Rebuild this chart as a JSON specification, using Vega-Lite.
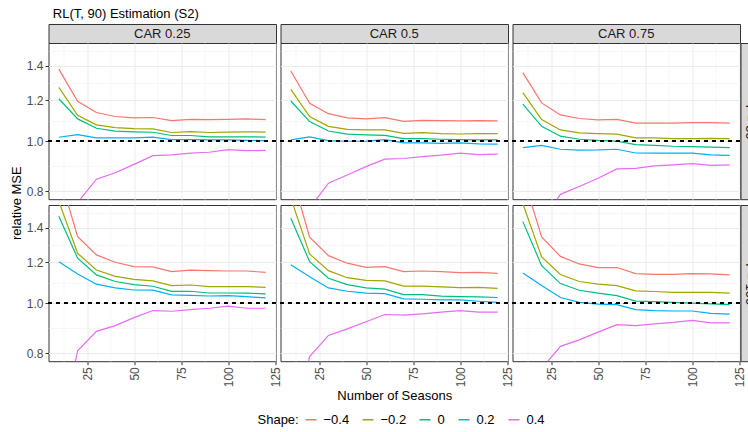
{
"$schema": "https://vega.github.io/schema/vega-lite/v6.json",
"padding": {"left": 9.5, "top": 7, "right": 0, "bottom": 0},
"title": {"text": "RL(T, 90) Estimation (S2)", "anchor": "start", "fontSize": 13, "fontWeight": "normal", "color": "#000000", "offset": 2.7, "dx": 43},
"datasets": {"mse": [
{"T":50,"CAR":0.25,"shape":-0.4,"seasons":10,"mse":1.380},{"T":50,"CAR":0.25,"shape":-0.4,"seasons":20,"mse":1.195},{"T":50,"CAR":0.25,"shape":-0.4,"seasons":30,"mse":1.137},{"T":50,"CAR":0.25,"shape":-0.4,"seasons":40,"mse":1.117},{"T":50,"CAR":0.25,"shape":-0.4,"seasons":50,"mse":1.110},{"T":50,"CAR":0.25,"shape":-0.4,"seasons":60,"mse":1.112},{"T":50,"CAR":0.25,"shape":-0.4,"seasons":70,"mse":1.097},{"T":50,"CAR":0.25,"shape":-0.4,"seasons":80,"mse":1.103},{"T":50,"CAR":0.25,"shape":-0.4,"seasons":90,"mse":1.101},{"T":50,"CAR":0.25,"shape":-0.4,"seasons":100,"mse":1.103},{"T":50,"CAR":0.25,"shape":-0.4,"seasons":110,"mse":1.105},{"T":50,"CAR":0.25,"shape":-0.4,"seasons":120,"mse":1.101},
{"T":50,"CAR":0.25,"shape":-0.2,"seasons":10,"mse":1.272},{"T":50,"CAR":0.25,"shape":-0.2,"seasons":20,"mse":1.123},{"T":50,"CAR":0.25,"shape":-0.2,"seasons":30,"mse":1.076},{"T":50,"CAR":0.25,"shape":-0.2,"seasons":40,"mse":1.063},{"T":50,"CAR":0.25,"shape":-0.2,"seasons":50,"mse":1.058},{"T":50,"CAR":0.25,"shape":-0.2,"seasons":60,"mse":1.057},{"T":50,"CAR":0.25,"shape":-0.2,"seasons":70,"mse":1.040},{"T":50,"CAR":0.25,"shape":-0.2,"seasons":80,"mse":1.044},{"T":50,"CAR":0.25,"shape":-0.2,"seasons":90,"mse":1.040},{"T":50,"CAR":0.25,"shape":-0.2,"seasons":100,"mse":1.042},{"T":50,"CAR":0.25,"shape":-0.2,"seasons":110,"mse":1.043},{"T":50,"CAR":0.25,"shape":-0.2,"seasons":120,"mse":1.042},
{"T":50,"CAR":0.25,"shape":0,"seasons":10,"mse":1.209},{"T":50,"CAR":0.25,"shape":0,"seasons":20,"mse":1.105},{"T":50,"CAR":0.25,"shape":0,"seasons":30,"mse":1.060},{"T":50,"CAR":0.25,"shape":0,"seasons":40,"mse":1.046},{"T":50,"CAR":0.25,"shape":0,"seasons":50,"mse":1.043},{"T":50,"CAR":0.25,"shape":0,"seasons":60,"mse":1.041},{"T":50,"CAR":0.25,"shape":0,"seasons":70,"mse":1.026},{"T":50,"CAR":0.25,"shape":0,"seasons":80,"mse":1.026},{"T":50,"CAR":0.25,"shape":0,"seasons":90,"mse":1.020},{"T":50,"CAR":0.25,"shape":0,"seasons":100,"mse":1.020},{"T":50,"CAR":0.25,"shape":0,"seasons":110,"mse":1.020},{"T":50,"CAR":0.25,"shape":0,"seasons":120,"mse":1.019},
{"T":50,"CAR":0.25,"shape":0.2,"seasons":10,"mse":1.018},{"T":50,"CAR":0.25,"shape":0.2,"seasons":20,"mse":1.030},{"T":50,"CAR":0.25,"shape":0.2,"seasons":30,"mse":1.015},{"T":50,"CAR":0.25,"shape":0.2,"seasons":40,"mse":1.015},{"T":50,"CAR":0.25,"shape":0.2,"seasons":50,"mse":1.015},{"T":50,"CAR":0.25,"shape":0.2,"seasons":60,"mse":1.019},{"T":50,"CAR":0.25,"shape":0.2,"seasons":70,"mse":1.007},{"T":50,"CAR":0.25,"shape":0.2,"seasons":80,"mse":1.007},{"T":50,"CAR":0.25,"shape":0.2,"seasons":90,"mse":1.006},{"T":50,"CAR":0.25,"shape":0.2,"seasons":100,"mse":1.006},{"T":50,"CAR":0.25,"shape":0.2,"seasons":110,"mse":1.004},{"T":50,"CAR":0.25,"shape":0.2,"seasons":120,"mse":1.003},
{"T":50,"CAR":0.25,"shape":0.4,"seasons":10,"mse":0.55},{"T":50,"CAR":0.25,"shape":0.4,"seasons":20,"mse":0.761},{"T":50,"CAR":0.25,"shape":0.4,"seasons":30,"mse":0.844},{"T":50,"CAR":0.25,"shape":0.4,"seasons":40,"mse":0.869},{"T":50,"CAR":0.25,"shape":0.4,"seasons":50,"mse":0.902},{"T":50,"CAR":0.25,"shape":0.4,"seasons":60,"mse":0.938},{"T":50,"CAR":0.25,"shape":0.4,"seasons":70,"mse":0.941},{"T":50,"CAR":0.25,"shape":0.4,"seasons":80,"mse":0.948},{"T":50,"CAR":0.25,"shape":0.4,"seasons":90,"mse":0.952},{"T":50,"CAR":0.25,"shape":0.4,"seasons":100,"mse":0.963},{"T":50,"CAR":0.25,"shape":0.4,"seasons":110,"mse":0.959},{"T":50,"CAR":0.25,"shape":0.4,"seasons":120,"mse":0.960},
{"T":50,"CAR":0.5,"shape":-0.4,"seasons":10,"mse":1.369},{"T":50,"CAR":0.5,"shape":-0.4,"seasons":20,"mse":1.185},{"T":50,"CAR":0.5,"shape":-0.4,"seasons":30,"mse":1.131},{"T":50,"CAR":0.5,"shape":-0.4,"seasons":40,"mse":1.110},{"T":50,"CAR":0.5,"shape":-0.4,"seasons":50,"mse":1.105},{"T":50,"CAR":0.5,"shape":-0.4,"seasons":60,"mse":1.111},{"T":50,"CAR":0.5,"shape":-0.4,"seasons":70,"mse":1.093},{"T":50,"CAR":0.5,"shape":-0.4,"seasons":80,"mse":1.098},{"T":50,"CAR":0.5,"shape":-0.4,"seasons":90,"mse":1.097},{"T":50,"CAR":0.5,"shape":-0.4,"seasons":100,"mse":1.095},{"T":50,"CAR":0.5,"shape":-0.4,"seasons":110,"mse":1.097},{"T":50,"CAR":0.5,"shape":-0.4,"seasons":120,"mse":1.095},
{"T":50,"CAR":0.5,"shape":-0.2,"seasons":10,"mse":1.261},{"T":50,"CAR":0.5,"shape":-0.2,"seasons":20,"mse":1.117},{"T":50,"CAR":0.5,"shape":-0.2,"seasons":30,"mse":1.069},{"T":50,"CAR":0.5,"shape":-0.2,"seasons":40,"mse":1.055},{"T":50,"CAR":0.5,"shape":-0.2,"seasons":50,"mse":1.052},{"T":50,"CAR":0.5,"shape":-0.2,"seasons":60,"mse":1.052},{"T":50,"CAR":0.5,"shape":-0.2,"seasons":70,"mse":1.036},{"T":50,"CAR":0.5,"shape":-0.2,"seasons":80,"mse":1.039},{"T":50,"CAR":0.5,"shape":-0.2,"seasons":90,"mse":1.035},{"T":50,"CAR":0.5,"shape":-0.2,"seasons":100,"mse":1.033},{"T":50,"CAR":0.5,"shape":-0.2,"seasons":110,"mse":1.035},{"T":50,"CAR":0.5,"shape":-0.2,"seasons":120,"mse":1.035},
{"T":50,"CAR":0.5,"shape":0,"seasons":10,"mse":1.197},{"T":50,"CAR":0.5,"shape":0,"seasons":20,"mse":1.092},{"T":50,"CAR":0.5,"shape":0,"seasons":30,"mse":1.047},{"T":50,"CAR":0.5,"shape":0,"seasons":40,"mse":1.032},{"T":50,"CAR":0.5,"shape":0,"seasons":50,"mse":1.029},{"T":50,"CAR":0.5,"shape":0,"seasons":60,"mse":1.027},{"T":50,"CAR":0.5,"shape":0,"seasons":70,"mse":1.012},{"T":50,"CAR":0.5,"shape":0,"seasons":80,"mse":1.012},{"T":50,"CAR":0.5,"shape":0,"seasons":90,"mse":1.009},{"T":50,"CAR":0.5,"shape":0,"seasons":100,"mse":1.007},{"T":50,"CAR":0.5,"shape":0,"seasons":110,"mse":1.006},{"T":50,"CAR":0.5,"shape":0,"seasons":120,"mse":1.006},
{"T":50,"CAR":0.5,"shape":0.2,"seasons":10,"mse":1.006},{"T":50,"CAR":0.5,"shape":0.2,"seasons":20,"mse":1.020},{"T":50,"CAR":0.5,"shape":0.2,"seasons":30,"mse":1.003},{"T":50,"CAR":0.5,"shape":0.2,"seasons":40,"mse":1.000},{"T":50,"CAR":0.5,"shape":0.2,"seasons":50,"mse":1.001},{"T":50,"CAR":0.5,"shape":0.2,"seasons":60,"mse":1.007},{"T":50,"CAR":0.5,"shape":0.2,"seasons":70,"mse":0.993},{"T":50,"CAR":0.5,"shape":0.2,"seasons":80,"mse":0.993},{"T":50,"CAR":0.5,"shape":0.2,"seasons":90,"mse":0.991},{"T":50,"CAR":0.5,"shape":0.2,"seasons":100,"mse":0.993},{"T":50,"CAR":0.5,"shape":0.2,"seasons":110,"mse":0.988},{"T":50,"CAR":0.5,"shape":0.2,"seasons":120,"mse":0.987},
{"T":50,"CAR":0.5,"shape":0.4,"seasons":10,"mse":0.50},{"T":50,"CAR":0.5,"shape":0.4,"seasons":20,"mse":0.742},{"T":50,"CAR":0.5,"shape":0.4,"seasons":30,"mse":0.829},{"T":50,"CAR":0.5,"shape":0.4,"seasons":40,"mse":0.860},{"T":50,"CAR":0.5,"shape":0.4,"seasons":50,"mse":0.893},{"T":50,"CAR":0.5,"shape":0.4,"seasons":60,"mse":0.923},{"T":50,"CAR":0.5,"shape":0.4,"seasons":70,"mse":0.926},{"T":50,"CAR":0.5,"shape":0.4,"seasons":80,"mse":0.934},{"T":50,"CAR":0.5,"shape":0.4,"seasons":90,"mse":0.940},{"T":50,"CAR":0.5,"shape":0.4,"seasons":100,"mse":0.948},{"T":50,"CAR":0.5,"shape":0.4,"seasons":110,"mse":0.942},{"T":50,"CAR":0.5,"shape":0.4,"seasons":120,"mse":0.944},
{"T":50,"CAR":0.75,"shape":-0.4,"seasons":10,"mse":1.359},{"T":50,"CAR":0.75,"shape":-0.4,"seasons":20,"mse":1.187},{"T":50,"CAR":0.75,"shape":-0.4,"seasons":30,"mse":1.125},{"T":50,"CAR":0.75,"shape":-0.4,"seasons":40,"mse":1.107},{"T":50,"CAR":0.75,"shape":-0.4,"seasons":50,"mse":1.100},{"T":50,"CAR":0.75,"shape":-0.4,"seasons":60,"mse":1.103},{"T":50,"CAR":0.75,"shape":-0.4,"seasons":70,"mse":1.084},{"T":50,"CAR":0.75,"shape":-0.4,"seasons":80,"mse":1.084},{"T":50,"CAR":0.75,"shape":-0.4,"seasons":90,"mse":1.084},{"T":50,"CAR":0.75,"shape":-0.4,"seasons":100,"mse":1.087},{"T":50,"CAR":0.75,"shape":-0.4,"seasons":110,"mse":1.087},{"T":50,"CAR":0.75,"shape":-0.4,"seasons":120,"mse":1.084},
{"T":50,"CAR":0.75,"shape":-0.2,"seasons":10,"mse":1.243},{"T":50,"CAR":0.75,"shape":-0.2,"seasons":20,"mse":1.102},{"T":50,"CAR":0.75,"shape":-0.2,"seasons":30,"mse":1.052},{"T":50,"CAR":0.75,"shape":-0.2,"seasons":40,"mse":1.038},{"T":50,"CAR":0.75,"shape":-0.2,"seasons":50,"mse":1.035},{"T":50,"CAR":0.75,"shape":-0.2,"seasons":60,"mse":1.032},{"T":50,"CAR":0.75,"shape":-0.2,"seasons":70,"mse":1.015},{"T":50,"CAR":0.75,"shape":-0.2,"seasons":80,"mse":1.015},{"T":50,"CAR":0.75,"shape":-0.2,"seasons":90,"mse":1.012},{"T":50,"CAR":0.75,"shape":-0.2,"seasons":100,"mse":1.012},{"T":50,"CAR":0.75,"shape":-0.2,"seasons":110,"mse":1.013},{"T":50,"CAR":0.75,"shape":-0.2,"seasons":120,"mse":1.012},
{"T":50,"CAR":0.75,"shape":0,"seasons":10,"mse":1.180},{"T":50,"CAR":0.75,"shape":0,"seasons":20,"mse":1.069},{"T":50,"CAR":0.75,"shape":0,"seasons":30,"mse":1.023},{"T":50,"CAR":0.75,"shape":0,"seasons":40,"mse":1.009},{"T":50,"CAR":0.75,"shape":0,"seasons":50,"mse":1.004},{"T":50,"CAR":0.75,"shape":0,"seasons":60,"mse":1.001},{"T":50,"CAR":0.75,"shape":0,"seasons":70,"mse":0.985},{"T":50,"CAR":0.75,"shape":0,"seasons":80,"mse":0.982},{"T":50,"CAR":0.75,"shape":0,"seasons":90,"mse":0.978},{"T":50,"CAR":0.75,"shape":0,"seasons":100,"mse":0.976},{"T":50,"CAR":0.75,"shape":0,"seasons":110,"mse":0.974},{"T":50,"CAR":0.75,"shape":0,"seasons":120,"mse":0.972},
{"T":50,"CAR":0.75,"shape":0.2,"seasons":10,"mse":0.972},{"T":50,"CAR":0.75,"shape":0.2,"seasons":20,"mse":0.982},{"T":50,"CAR":0.75,"shape":0.2,"seasons":30,"mse":0.965},{"T":50,"CAR":0.75,"shape":0.2,"seasons":40,"mse":0.961},{"T":50,"CAR":0.75,"shape":0.2,"seasons":50,"mse":0.962},{"T":50,"CAR":0.75,"shape":0.2,"seasons":60,"mse":0.965},{"T":50,"CAR":0.75,"shape":0.2,"seasons":70,"mse":0.949},{"T":50,"CAR":0.75,"shape":0.2,"seasons":80,"mse":0.948},{"T":50,"CAR":0.75,"shape":0.2,"seasons":90,"mse":0.948},{"T":50,"CAR":0.75,"shape":0.2,"seasons":100,"mse":0.948},{"T":50,"CAR":0.75,"shape":0.2,"seasons":110,"mse":0.941},{"T":50,"CAR":0.75,"shape":0.2,"seasons":120,"mse":0.939},
{"T":50,"CAR":0.75,"shape":0.4,"seasons":10,"mse":0.45},{"T":50,"CAR":0.75,"shape":0.4,"seasons":20,"mse":0.70},{"T":50,"CAR":0.75,"shape":0.4,"seasons":30,"mse":0.789},{"T":50,"CAR":0.75,"shape":0.4,"seasons":40,"mse":0.817},{"T":50,"CAR":0.75,"shape":0.4,"seasons":50,"mse":0.848},{"T":50,"CAR":0.75,"shape":0.4,"seasons":60,"mse":0.884},{"T":50,"CAR":0.75,"shape":0.4,"seasons":70,"mse":0.886},{"T":50,"CAR":0.75,"shape":0.4,"seasons":80,"mse":0.896},{"T":50,"CAR":0.75,"shape":0.4,"seasons":90,"mse":0.900},{"T":50,"CAR":0.75,"shape":0.4,"seasons":100,"mse":0.905},{"T":50,"CAR":0.75,"shape":0.4,"seasons":110,"mse":0.898},{"T":50,"CAR":0.75,"shape":0.4,"seasons":120,"mse":0.900},
{"T":100,"CAR":0.25,"shape":-0.4,"seasons":10,"mse":1.79},{"T":100,"CAR":0.25,"shape":-0.4,"seasons":20,"mse":1.347},{"T":100,"CAR":0.25,"shape":-0.4,"seasons":30,"mse":1.241},{"T":100,"CAR":0.25,"shape":-0.4,"seasons":40,"mse":1.201},{"T":100,"CAR":0.25,"shape":-0.4,"seasons":50,"mse":1.178},{"T":100,"CAR":0.25,"shape":-0.4,"seasons":60,"mse":1.176},{"T":100,"CAR":0.25,"shape":-0.4,"seasons":70,"mse":1.152},{"T":100,"CAR":0.25,"shape":-0.4,"seasons":80,"mse":1.160},{"T":100,"CAR":0.25,"shape":-0.4,"seasons":90,"mse":1.157},{"T":100,"CAR":0.25,"shape":-0.4,"seasons":100,"mse":1.155},{"T":100,"CAR":0.25,"shape":-0.4,"seasons":110,"mse":1.155},{"T":100,"CAR":0.25,"shape":-0.4,"seasons":120,"mse":1.148},
{"T":100,"CAR":0.25,"shape":-0.2,"seasons":10,"mse":1.576},{"T":100,"CAR":0.25,"shape":-0.2,"seasons":20,"mse":1.250},{"T":100,"CAR":0.25,"shape":-0.2,"seasons":30,"mse":1.160},{"T":100,"CAR":0.25,"shape":-0.2,"seasons":40,"mse":1.128},{"T":100,"CAR":0.25,"shape":-0.2,"seasons":50,"mse":1.113},{"T":100,"CAR":0.25,"shape":-0.2,"seasons":60,"mse":1.105},{"T":100,"CAR":0.25,"shape":-0.2,"seasons":70,"mse":1.082},{"T":100,"CAR":0.25,"shape":-0.2,"seasons":80,"mse":1.085},{"T":100,"CAR":0.25,"shape":-0.2,"seasons":90,"mse":1.077},{"T":100,"CAR":0.25,"shape":-0.2,"seasons":100,"mse":1.077},{"T":100,"CAR":0.25,"shape":-0.2,"seasons":110,"mse":1.077},{"T":100,"CAR":0.25,"shape":-0.2,"seasons":120,"mse":1.074},
{"T":100,"CAR":0.25,"shape":0,"seasons":10,"mse":1.475},{"T":100,"CAR":0.25,"shape":0,"seasons":20,"mse":1.223},{"T":100,"CAR":0.25,"shape":0,"seasons":30,"mse":1.135},{"T":100,"CAR":0.25,"shape":0,"seasons":40,"mse":1.102},{"T":100,"CAR":0.25,"shape":0,"seasons":50,"mse":1.087},{"T":100,"CAR":0.25,"shape":0,"seasons":60,"mse":1.079},{"T":100,"CAR":0.25,"shape":0,"seasons":70,"mse":1.055},{"T":100,"CAR":0.25,"shape":0,"seasons":80,"mse":1.055},{"T":100,"CAR":0.25,"shape":0,"seasons":90,"mse":1.047},{"T":100,"CAR":0.25,"shape":0,"seasons":100,"mse":1.047},{"T":100,"CAR":0.25,"shape":0,"seasons":110,"mse":1.046},{"T":100,"CAR":0.25,"shape":0,"seasons":120,"mse":1.043},
{"T":100,"CAR":0.25,"shape":0.2,"seasons":10,"mse":1.204},{"T":100,"CAR":0.25,"shape":0.2,"seasons":20,"mse":1.140},{"T":100,"CAR":0.25,"shape":0.2,"seasons":30,"mse":1.089},{"T":100,"CAR":0.25,"shape":0.2,"seasons":40,"mse":1.071},{"T":100,"CAR":0.25,"shape":0.2,"seasons":50,"mse":1.061},{"T":100,"CAR":0.25,"shape":0.2,"seasons":60,"mse":1.060},{"T":100,"CAR":0.25,"shape":0.2,"seasons":70,"mse":1.038},{"T":100,"CAR":0.25,"shape":0.2,"seasons":80,"mse":1.036},{"T":100,"CAR":0.25,"shape":0.2,"seasons":90,"mse":1.033},{"T":100,"CAR":0.25,"shape":0.2,"seasons":100,"mse":1.035},{"T":100,"CAR":0.25,"shape":0.2,"seasons":110,"mse":1.030},{"T":100,"CAR":0.25,"shape":0.2,"seasons":120,"mse":1.024},
{"T":100,"CAR":0.25,"shape":0.4,"seasons":10,"mse":0.55},{"T":100,"CAR":0.25,"shape":0.4,"seasons":20,"mse":0.809},{"T":100,"CAR":0.25,"shape":0.4,"seasons":30,"mse":0.882},{"T":100,"CAR":0.25,"shape":0.4,"seasons":40,"mse":0.905},{"T":100,"CAR":0.25,"shape":0.4,"seasons":50,"mse":0.938},{"T":100,"CAR":0.25,"shape":0.4,"seasons":60,"mse":0.968},{"T":100,"CAR":0.25,"shape":0.4,"seasons":70,"mse":0.965},{"T":100,"CAR":0.25,"shape":0.4,"seasons":80,"mse":0.972},{"T":100,"CAR":0.25,"shape":0.4,"seasons":90,"mse":0.978},{"T":100,"CAR":0.25,"shape":0.4,"seasons":100,"mse":0.987},{"T":100,"CAR":0.25,"shape":0.4,"seasons":110,"mse":0.978},{"T":100,"CAR":0.25,"shape":0.4,"seasons":120,"mse":0.978},
{"T":100,"CAR":0.5,"shape":-0.4,"seasons":10,"mse":1.80},{"T":100,"CAR":0.5,"shape":-0.4,"seasons":20,"mse":1.343},{"T":100,"CAR":0.5,"shape":-0.4,"seasons":30,"mse":1.237},{"T":100,"CAR":0.5,"shape":-0.4,"seasons":40,"mse":1.196},{"T":100,"CAR":0.5,"shape":-0.4,"seasons":50,"mse":1.174},{"T":100,"CAR":0.5,"shape":-0.4,"seasons":60,"mse":1.178},{"T":100,"CAR":0.5,"shape":-0.4,"seasons":70,"mse":1.152},{"T":100,"CAR":0.5,"shape":-0.4,"seasons":80,"mse":1.155},{"T":100,"CAR":0.5,"shape":-0.4,"seasons":90,"mse":1.152},{"T":100,"CAR":0.5,"shape":-0.4,"seasons":100,"mse":1.147},{"T":100,"CAR":0.5,"shape":-0.4,"seasons":110,"mse":1.148},{"T":100,"CAR":0.5,"shape":-0.4,"seasons":120,"mse":1.143},
{"T":100,"CAR":0.5,"shape":-0.2,"seasons":10,"mse":1.60},{"T":100,"CAR":0.5,"shape":-0.2,"seasons":20,"mse":1.246},{"T":100,"CAR":0.5,"shape":-0.2,"seasons":30,"mse":1.157},{"T":100,"CAR":0.5,"shape":-0.2,"seasons":40,"mse":1.121},{"T":100,"CAR":0.5,"shape":-0.2,"seasons":50,"mse":1.108},{"T":100,"CAR":0.5,"shape":-0.2,"seasons":60,"mse":1.105},{"T":100,"CAR":0.5,"shape":-0.2,"seasons":70,"mse":1.080},{"T":100,"CAR":0.5,"shape":-0.2,"seasons":80,"mse":1.080},{"T":100,"CAR":0.5,"shape":-0.2,"seasons":90,"mse":1.076},{"T":100,"CAR":0.5,"shape":-0.2,"seasons":100,"mse":1.072},{"T":100,"CAR":0.5,"shape":-0.2,"seasons":110,"mse":1.074},{"T":100,"CAR":0.5,"shape":-0.2,"seasons":120,"mse":1.069},
{"T":100,"CAR":0.5,"shape":0,"seasons":10,"mse":1.462},{"T":100,"CAR":0.5,"shape":0,"seasons":20,"mse":1.204},{"T":100,"CAR":0.5,"shape":0,"seasons":30,"mse":1.118},{"T":100,"CAR":0.5,"shape":0,"seasons":40,"mse":1.087},{"T":100,"CAR":0.5,"shape":0,"seasons":50,"mse":1.071},{"T":100,"CAR":0.5,"shape":0,"seasons":60,"mse":1.065},{"T":100,"CAR":0.5,"shape":0,"seasons":70,"mse":1.039},{"T":100,"CAR":0.5,"shape":0,"seasons":80,"mse":1.039},{"T":100,"CAR":0.5,"shape":0,"seasons":90,"mse":1.032},{"T":100,"CAR":0.5,"shape":0,"seasons":100,"mse":1.030},{"T":100,"CAR":0.5,"shape":0,"seasons":110,"mse":1.029},{"T":100,"CAR":0.5,"shape":0,"seasons":120,"mse":1.026},
{"T":100,"CAR":0.5,"shape":0.2,"seasons":10,"mse":1.188},{"T":100,"CAR":0.5,"shape":0.2,"seasons":20,"mse":1.126},{"T":100,"CAR":0.5,"shape":0.2,"seasons":30,"mse":1.071},{"T":100,"CAR":0.5,"shape":0.2,"seasons":40,"mse":1.055},{"T":100,"CAR":0.5,"shape":0.2,"seasons":50,"mse":1.046},{"T":100,"CAR":0.5,"shape":0.2,"seasons":60,"mse":1.044},{"T":100,"CAR":0.5,"shape":0.2,"seasons":70,"mse":1.020},{"T":100,"CAR":0.5,"shape":0.2,"seasons":80,"mse":1.018},{"T":100,"CAR":0.5,"shape":0.2,"seasons":90,"mse":1.015},{"T":100,"CAR":0.5,"shape":0.2,"seasons":100,"mse":1.015},{"T":100,"CAR":0.5,"shape":0.2,"seasons":110,"mse":1.009},{"T":100,"CAR":0.5,"shape":0.2,"seasons":120,"mse":1.004},
{"T":100,"CAR":0.5,"shape":0.4,"seasons":10,"mse":0.55},{"T":100,"CAR":0.5,"shape":0.4,"seasons":20,"mse":0.788},{"T":100,"CAR":0.5,"shape":0.4,"seasons":30,"mse":0.866},{"T":100,"CAR":0.5,"shape":0.4,"seasons":40,"mse":0.892},{"T":100,"CAR":0.5,"shape":0.4,"seasons":50,"mse":0.921},{"T":100,"CAR":0.5,"shape":0.4,"seasons":60,"mse":0.951},{"T":100,"CAR":0.5,"shape":0.4,"seasons":70,"mse":0.948},{"T":100,"CAR":0.5,"shape":0.4,"seasons":80,"mse":0.954},{"T":100,"CAR":0.5,"shape":0.4,"seasons":90,"mse":0.961},{"T":100,"CAR":0.5,"shape":0.4,"seasons":100,"mse":0.968},{"T":100,"CAR":0.5,"shape":0.4,"seasons":110,"mse":0.961},{"T":100,"CAR":0.5,"shape":0.4,"seasons":120,"mse":0.961},
{"T":100,"CAR":0.75,"shape":-0.4,"seasons":10,"mse":1.77},{"T":100,"CAR":0.75,"shape":-0.4,"seasons":20,"mse":1.345},{"T":100,"CAR":0.75,"shape":-0.4,"seasons":30,"mse":1.233},{"T":100,"CAR":0.75,"shape":-0.4,"seasons":40,"mse":1.192},{"T":100,"CAR":0.75,"shape":-0.4,"seasons":50,"mse":1.173},{"T":100,"CAR":0.75,"shape":-0.4,"seasons":60,"mse":1.173},{"T":100,"CAR":0.75,"shape":-0.4,"seasons":70,"mse":1.142},{"T":100,"CAR":0.75,"shape":-0.4,"seasons":80,"mse":1.138},{"T":100,"CAR":0.75,"shape":-0.4,"seasons":90,"mse":1.138},{"T":100,"CAR":0.75,"shape":-0.4,"seasons":100,"mse":1.142},{"T":100,"CAR":0.75,"shape":-0.4,"seasons":110,"mse":1.140},{"T":100,"CAR":0.75,"shape":-0.4,"seasons":120,"mse":1.135},
{"T":100,"CAR":0.75,"shape":-0.2,"seasons":10,"mse":1.56},{"T":100,"CAR":0.75,"shape":-0.2,"seasons":20,"mse":1.230},{"T":100,"CAR":0.75,"shape":-0.2,"seasons":30,"mse":1.137},{"T":100,"CAR":0.75,"shape":-0.2,"seasons":40,"mse":1.102},{"T":100,"CAR":0.75,"shape":-0.2,"seasons":50,"mse":1.089},{"T":100,"CAR":0.75,"shape":-0.2,"seasons":60,"mse":1.082},{"T":100,"CAR":0.75,"shape":-0.2,"seasons":70,"mse":1.057},{"T":100,"CAR":0.75,"shape":-0.2,"seasons":80,"mse":1.054},{"T":100,"CAR":0.75,"shape":-0.2,"seasons":90,"mse":1.050},{"T":100,"CAR":0.75,"shape":-0.2,"seasons":100,"mse":1.050},{"T":100,"CAR":0.75,"shape":-0.2,"seasons":110,"mse":1.050},{"T":100,"CAR":0.75,"shape":-0.2,"seasons":120,"mse":1.046},
{"T":100,"CAR":0.75,"shape":0,"seasons":10,"mse":1.440},{"T":100,"CAR":0.75,"shape":0,"seasons":20,"mse":1.183},{"T":100,"CAR":0.75,"shape":0,"seasons":30,"mse":1.092},{"T":100,"CAR":0.75,"shape":0,"seasons":40,"mse":1.060},{"T":100,"CAR":0.75,"shape":0,"seasons":50,"mse":1.046},{"T":100,"CAR":0.75,"shape":0,"seasons":60,"mse":1.035},{"T":100,"CAR":0.75,"shape":0,"seasons":70,"mse":1.010},{"T":100,"CAR":0.75,"shape":0,"seasons":80,"mse":1.007},{"T":100,"CAR":0.75,"shape":0,"seasons":90,"mse":1.004},{"T":100,"CAR":0.75,"shape":0,"seasons":100,"mse":1.001},{"T":100,"CAR":0.75,"shape":0,"seasons":110,"mse":0.997},{"T":100,"CAR":0.75,"shape":0,"seasons":120,"mse":0.994},
{"T":100,"CAR":0.75,"shape":0.2,"seasons":10,"mse":1.145},{"T":100,"CAR":0.75,"shape":0.2,"seasons":20,"mse":1.082},{"T":100,"CAR":0.75,"shape":0.2,"seasons":30,"mse":1.026},{"T":100,"CAR":0.75,"shape":0.2,"seasons":40,"mse":1.004},{"T":100,"CAR":0.75,"shape":0.2,"seasons":50,"mse":0.996},{"T":100,"CAR":0.75,"shape":0.2,"seasons":60,"mse":0.994},{"T":100,"CAR":0.75,"shape":0.2,"seasons":70,"mse":0.972},{"T":100,"CAR":0.75,"shape":0.2,"seasons":80,"mse":0.968},{"T":100,"CAR":0.75,"shape":0.2,"seasons":90,"mse":0.966},{"T":100,"CAR":0.75,"shape":0.2,"seasons":100,"mse":0.966},{"T":100,"CAR":0.75,"shape":0.2,"seasons":110,"mse":0.956},{"T":100,"CAR":0.75,"shape":0.2,"seasons":120,"mse":0.953},
{"T":100,"CAR":0.75,"shape":0.4,"seasons":10,"mse":0.50},{"T":100,"CAR":0.75,"shape":0.4,"seasons":20,"mse":0.747},{"T":100,"CAR":0.75,"shape":0.4,"seasons":30,"mse":0.825},{"T":100,"CAR":0.75,"shape":0.4,"seasons":40,"mse":0.849},{"T":100,"CAR":0.75,"shape":0.4,"seasons":50,"mse":0.879},{"T":100,"CAR":0.75,"shape":0.4,"seasons":60,"mse":0.909},{"T":100,"CAR":0.75,"shape":0.4,"seasons":70,"mse":0.905},{"T":100,"CAR":0.75,"shape":0.4,"seasons":80,"mse":0.912},{"T":100,"CAR":0.75,"shape":0.4,"seasons":90,"mse":0.918},{"T":100,"CAR":0.75,"shape":0.4,"seasons":100,"mse":0.926},{"T":100,"CAR":0.75,"shape":0.4,"seasons":110,"mse":0.916},{"T":100,"CAR":0.75,"shape":0.4,"seasons":120,"mse":0.916}
]},
"columns": 6,
"spacing": {"row": 0, "column": 0},
"bounds": "flush",
"concat": [
 {"width": 227.5, "height": 19, "data": {"values": [{"label": "CAR 0.25"}]}, "mark": {"type": "text", "fontSize": 13, "color": "#1A1A1A"}, "encoding": {"text": {"field": "label"}}, "view": {"fill": "#D9D9D9", "stroke": "#333333"}},
 {"width": 3.5, "height": 19, "data": {"values": [{}]}, "mark": {"type": "text", "text": ""}, "view": {"stroke": null}},
 {"width": 227.5, "height": 19, "data": {"values": [{"label": "CAR 0.5"}]}, "mark": {"type": "text", "fontSize": 13, "color": "#1A1A1A"}, "encoding": {"text": {"field": "label"}}, "view": {"fill": "#D9D9D9", "stroke": "#333333"}},
 {"width": 3.5, "height": 19, "data": {"values": [{}]}, "mark": {"type": "text", "text": ""}, "view": {"stroke": null}},
 {"width": 227.5, "height": 19, "data": {"values": [{"label": "CAR 0.75"}]}, "mark": {"type": "text", "fontSize": 13, "color": "#1A1A1A"}, "encoding": {"text": {"field": "label"}}, "view": {"fill": "#D9D9D9", "stroke": "#333333"}},
 {"width": 10, "height": 19, "data": {"values": [{}]}, "mark": {"type": "text", "text": ""}, "view": {"stroke": null}},

 {"width": 227.5, "height": 156.2, "data": {"name": "mse"}, "transform": [{"filter": "datum.T == 50 && datum.CAR == 0.25"}],
  "layer": [
    {"mark": {"type": "line", "clip": true, "strokeWidth": 1.2},
     "encoding": {
       "x": {"field": "seasons", "type": "quantitative", "scale": {"domain": [4.5, 125.5], "nice": false, "zero": false},
             "axis": {"values": [12.5,25,37.5,50,62.5,75,87.5,100,112.5,125], "labels": false, "ticks": false, "title": null,
                      "gridColor": {"condition": {"test": "datum.value % 25 == 0", "value": "#EBEBEB"}, "value": "#F2F2F2"},
                      "gridWidth": {"condition": {"test": "datum.value % 25 == 0", "value": 1}, "value": 0.6}}},
       "y": {"field": "mse", "type": "quantitative", "scale": {"type": "log", "domain": [0.772, 1.551], "nice": false},
             "axis": {"values": [0.8,0.8944,1.0,1.0954,1.2,1.2961,1.4,1.4967], "title": null, "labelFlush": false, "labelOverlap": false,
                      "labelExpr": "abs(datum.value*5 - round(datum.value*5)) < 0.01 ? format(datum.value, '.1f') : ''",
                      "tickOpacity": {"condition": {"test": "abs(datum.value*5 - round(datum.value*5)) < 0.01", "value": 1}, "value": 0},
                      "gridColor": {"condition": {"test": "abs(datum.value*5 - round(datum.value*5)) < 0.01", "value": "#EBEBEB"}, "value": "#F2F2F2"},
                      "gridWidth": {"condition": {"test": "abs(datum.value*5 - round(datum.value*5)) < 0.01", "value": 1}, "value": 0.6}}},
       "color": {"field": "shape", "type": "nominal", "scale": {"domain": [-0.4,-0.2,0,0.2,0.4], "range": ["#F8766D","#A3A500","#00BF7D","#00B0F6","#E76BF3"]},
                 "legend": {"title": "Shape:", "orient": "none", "legendX": 209, "legendY": 389, "labelExpr": "replace(datum.label, '-', '−')"}}
     }},
    {"mark": {"type": "rule", "strokeDash": [4, 4], "color": "#000000", "strokeWidth": 0.9}, "encoding": {"y": {"datum": 1}}}
  ]},
 {"width": 3.5, "height": 156.2, "data": {"values": [{}]}, "mark": {"type": "text", "text": ""}, "view": {"stroke": null}},
 {"width": 227.5, "height": 156.2, "data": {"name": "mse"}, "transform": [{"filter": "datum.T == 50 && datum.CAR == 0.5"}],
  "layer": [
    {"mark": {"type": "line", "clip": true, "strokeWidth": 1.2},
     "encoding": {
       "x": {"field": "seasons", "type": "quantitative", "scale": {"domain": [4.5, 125.5], "nice": false, "zero": false},
             "axis": {"values": [12.5,25,37.5,50,62.5,75,87.5,100,112.5,125], "labels": false, "ticks": false, "title": null,
                      "gridColor": {"condition": {"test": "datum.value % 25 == 0", "value": "#EBEBEB"}, "value": "#F2F2F2"},
                      "gridWidth": {"condition": {"test": "datum.value % 25 == 0", "value": 1}, "value": 0.6}}},
       "y": {"field": "mse", "type": "quantitative", "scale": {"type": "log", "domain": [0.772, 1.551], "nice": false},
             "axis": {"values": [0.8,0.8944,1.0,1.0954,1.2,1.2961,1.4,1.4967], "title": null, "labels": false, "ticks": false,
                      "gridColor": {"condition": {"test": "abs(datum.value*5 - round(datum.value*5)) < 0.01", "value": "#EBEBEB"}, "value": "#F2F2F2"},
                      "gridWidth": {"condition": {"test": "abs(datum.value*5 - round(datum.value*5)) < 0.01", "value": 1}, "value": 0.6}}},
       "color": {"field": "shape", "type": "nominal", "scale": {"domain": [-0.4,-0.2,0,0.2,0.4], "range": ["#F8766D","#A3A500","#00BF7D","#00B0F6","#E76BF3"]},
                 "legend": {"title": "Shape:", "orient": "none", "legendX": 209, "legendY": 389, "labelExpr": "replace(datum.label, '-', '−')"}}
     }},
    {"mark": {"type": "rule", "strokeDash": [4, 4], "color": "#000000", "strokeWidth": 0.9}, "encoding": {"y": {"datum": 1}}}
  ]},
 {"width": 3.5, "height": 156.2, "data": {"values": [{}]}, "mark": {"type": "text", "text": ""}, "view": {"stroke": null}},
 {"width": 227.5, "height": 156.2, "data": {"name": "mse"}, "transform": [{"filter": "datum.T == 50 && datum.CAR == 0.75"}],
  "layer": [
    {"mark": {"type": "line", "clip": true, "strokeWidth": 1.2},
     "encoding": {
       "x": {"field": "seasons", "type": "quantitative", "scale": {"domain": [4.5, 125.5], "nice": false, "zero": false},
             "axis": {"values": [12.5,25,37.5,50,62.5,75,87.5,100,112.5,125], "labels": false, "ticks": false, "title": null,
                      "gridColor": {"condition": {"test": "datum.value % 25 == 0", "value": "#EBEBEB"}, "value": "#F2F2F2"},
                      "gridWidth": {"condition": {"test": "datum.value % 25 == 0", "value": 1}, "value": 0.6}}},
       "y": {"field": "mse", "type": "quantitative", "scale": {"type": "log", "domain": [0.772, 1.551], "nice": false},
             "axis": {"values": [0.8,0.8944,1.0,1.0954,1.2,1.2961,1.4,1.4967], "title": null, "labels": false, "ticks": false,
                      "gridColor": {"condition": {"test": "abs(datum.value*5 - round(datum.value*5)) < 0.01", "value": "#EBEBEB"}, "value": "#F2F2F2"},
                      "gridWidth": {"condition": {"test": "abs(datum.value*5 - round(datum.value*5)) < 0.01", "value": 1}, "value": 0.6}}},
       "color": {"field": "shape", "type": "nominal", "scale": {"domain": [-0.4,-0.2,0,0.2,0.4], "range": ["#F8766D","#A3A500","#00BF7D","#00B0F6","#E76BF3"]},
                 "legend": {"title": "Shape:", "orient": "none", "legendX": 209, "legendY": 389, "labelExpr": "replace(datum.label, '-', '−')"}}
     }},
    {"mark": {"type": "rule", "strokeDash": [4, 4], "color": "#000000", "strokeWidth": 0.9}, "encoding": {"y": {"datum": 1}}}
  ]},
 {"width": 10, "height": 156.2, "data": {"values": [{"label": "T = 50"}]}, "mark": {"type": "text", "angle": 90, "fontSize": 13, "color": "#1A1A1A", "clip": true, "dy": -4.5}, "encoding": {"text": {"field": "label"}}, "view": {"fill": "#D9D9D9", "stroke": "#333333", "strokeDash": [10, 156.2, 166.2]}},

 {"width": 227.5, "height": 4.6, "data": {"values": [{}]}, "mark": {"type": "text", "text": ""}, "view": {"stroke": null}},
 {"width": 3.5, "height": 4.6, "data": {"values": [{}]}, "mark": {"type": "text", "text": ""}, "view": {"stroke": null}},
 {"width": 227.5, "height": 4.6, "data": {"values": [{}]}, "mark": {"type": "text", "text": ""}, "view": {"stroke": null}},
 {"width": 3.5, "height": 4.6, "data": {"values": [{}]}, "mark": {"type": "text", "text": ""}, "view": {"stroke": null}},
 {"width": 227.5, "height": 4.6, "data": {"values": [{}]}, "mark": {"type": "text", "text": ""}, "view": {"stroke": null}},
 {"width": 10, "height": 4.6, "data": {"values": [{}]}, "mark": {"type": "text", "text": ""}, "view": {"stroke": null}},

 {"width": 227.5, "height": 156.2, "data": {"name": "mse"}, "transform": [{"filter": "datum.T == 100 && datum.CAR == 0.25"}],
  "layer": [
    {"mark": {"type": "line", "clip": true, "strokeWidth": 1.2},
     "encoding": {
       "x": {"field": "seasons", "type": "quantitative", "scale": {"domain": [4.5, 125.5], "nice": false, "zero": false},
             "axis": {"values": [12.5,25,37.5,50,62.5,75,87.5,100,112.5,125], "title": null, "labelAngle": 270, "labelFlush": false, "labelOverlap": false,
                      "labelExpr": "datum.value % 25 == 0 ? datum.label : ''",
                      "tickOpacity": {"condition": {"test": "datum.value % 25 == 0", "value": 1}, "value": 0},
                      "gridColor": {"condition": {"test": "datum.value % 25 == 0", "value": "#EBEBEB"}, "value": "#F2F2F2"},
                      "gridWidth": {"condition": {"test": "datum.value % 25 == 0", "value": 1}, "value": 0.6}}},
       "y": {"field": "mse", "type": "quantitative", "scale": {"type": "log", "domain": [0.772, 1.551], "nice": false},
             "axis": {"values": [0.8,0.8944,1.0,1.0954,1.2,1.2961,1.4,1.4967], "title": "relative MSE", "titleY": -2.3, "titlePadding": 3, "labelFlush": false, "labelOverlap": false,
                      "labelExpr": "abs(datum.value*5 - round(datum.value*5)) < 0.01 ? format(datum.value, '.1f') : ''",
                      "tickOpacity": {"condition": {"test": "abs(datum.value*5 - round(datum.value*5)) < 0.01", "value": 1}, "value": 0},
                      "gridColor": {"condition": {"test": "abs(datum.value*5 - round(datum.value*5)) < 0.01", "value": "#EBEBEB"}, "value": "#F2F2F2"},
                      "gridWidth": {"condition": {"test": "abs(datum.value*5 - round(datum.value*5)) < 0.01", "value": 1}, "value": 0.6}}},
       "color": {"field": "shape", "type": "nominal", "scale": {"domain": [-0.4,-0.2,0,0.2,0.4], "range": ["#F8766D","#A3A500","#00BF7D","#00B0F6","#E76BF3"]},
                 "legend": {"title": "Shape:", "orient": "none", "legendX": 209, "legendY": 389, "labelExpr": "replace(datum.label, '-', '−')"}}
     }},
    {"mark": {"type": "rule", "strokeDash": [4, 4], "color": "#000000", "strokeWidth": 0.9}, "encoding": {"y": {"datum": 1}}}
  ]},
 {"width": 3.5, "height": 156.2, "data": {"values": [{}]}, "mark": {"type": "text", "text": ""}, "view": {"stroke": null}},
 {"width": 227.5, "height": 156.2, "data": {"name": "mse"}, "transform": [{"filter": "datum.T == 100 && datum.CAR == 0.5"}],
  "layer": [
    {"mark": {"type": "line", "clip": true, "strokeWidth": 1.2},
     "encoding": {
       "x": {"field": "seasons", "type": "quantitative", "scale": {"domain": [4.5, 125.5], "nice": false, "zero": false},
             "axis": {"values": [12.5,25,37.5,50,62.5,75,87.5,100,112.5,125], "title": "Number of Seasons", "titlePadding": 3, "labelAngle": 270, "labelFlush": false, "labelOverlap": false,
                      "labelExpr": "datum.value % 25 == 0 ? datum.label : ''",
                      "tickOpacity": {"condition": {"test": "datum.value % 25 == 0", "value": 1}, "value": 0},
                      "gridColor": {"condition": {"test": "datum.value % 25 == 0", "value": "#EBEBEB"}, "value": "#F2F2F2"},
                      "gridWidth": {"condition": {"test": "datum.value % 25 == 0", "value": 1}, "value": 0.6}}},
       "y": {"field": "mse", "type": "quantitative", "scale": {"type": "log", "domain": [0.772, 1.551], "nice": false},
             "axis": {"values": [0.8,0.8944,1.0,1.0954,1.2,1.2961,1.4,1.4967], "title": null, "labels": false, "ticks": false,
                      "gridColor": {"condition": {"test": "abs(datum.value*5 - round(datum.value*5)) < 0.01", "value": "#EBEBEB"}, "value": "#F2F2F2"},
                      "gridWidth": {"condition": {"test": "abs(datum.value*5 - round(datum.value*5)) < 0.01", "value": 1}, "value": 0.6}}},
       "color": {"field": "shape", "type": "nominal", "scale": {"domain": [-0.4,-0.2,0,0.2,0.4], "range": ["#F8766D","#A3A500","#00BF7D","#00B0F6","#E76BF3"]},
                 "legend": {"title": "Shape:", "orient": "none", "legendX": 209, "legendY": 389, "labelExpr": "replace(datum.label, '-', '−')"}}
     }},
    {"mark": {"type": "rule", "strokeDash": [4, 4], "color": "#000000", "strokeWidth": 0.9}, "encoding": {"y": {"datum": 1}}}
  ]},
 {"width": 3.5, "height": 156.2, "data": {"values": [{}]}, "mark": {"type": "text", "text": ""}, "view": {"stroke": null}},
 {"width": 227.5, "height": 156.2, "data": {"name": "mse"}, "transform": [{"filter": "datum.T == 100 && datum.CAR == 0.75"}],
  "layer": [
    {"mark": {"type": "line", "clip": true, "strokeWidth": 1.2},
     "encoding": {
       "x": {"field": "seasons", "type": "quantitative", "scale": {"domain": [4.5, 125.5], "nice": false, "zero": false},
             "axis": {"values": [12.5,25,37.5,50,62.5,75,87.5,100,112.5,125], "title": null, "labelAngle": 270, "labelFlush": false, "labelOverlap": false,
                      "labelExpr": "datum.value % 25 == 0 ? datum.label : ''",
                      "tickOpacity": {"condition": {"test": "datum.value % 25 == 0", "value": 1}, "value": 0},
                      "gridColor": {"condition": {"test": "datum.value % 25 == 0", "value": "#EBEBEB"}, "value": "#F2F2F2"},
                      "gridWidth": {"condition": {"test": "datum.value % 25 == 0", "value": 1}, "value": 0.6}}},
       "y": {"field": "mse", "type": "quantitative", "scale": {"type": "log", "domain": [0.772, 1.551], "nice": false},
             "axis": {"values": [0.8,0.8944,1.0,1.0954,1.2,1.2961,1.4,1.4967], "title": null, "labels": false, "ticks": false,
                      "gridColor": {"condition": {"test": "abs(datum.value*5 - round(datum.value*5)) < 0.01", "value": "#EBEBEB"}, "value": "#F2F2F2"},
                      "gridWidth": {"condition": {"test": "abs(datum.value*5 - round(datum.value*5)) < 0.01", "value": 1}, "value": 0.6}}},
       "color": {"field": "shape", "type": "nominal", "scale": {"domain": [-0.4,-0.2,0,0.2,0.4], "range": ["#F8766D","#A3A500","#00BF7D","#00B0F6","#E76BF3"]},
                 "legend": {"title": "Shape:", "orient": "none", "legendX": 209, "legendY": 389, "labelExpr": "replace(datum.label, '-', '−')"}}
     }},
    {"mark": {"type": "rule", "strokeDash": [4, 4], "color": "#000000", "strokeWidth": 0.9}, "encoding": {"y": {"datum": 1}}}
  ]},
 {"width": 10, "height": 156.2, "data": {"values": [{"label": "T = 100"}]}, "mark": {"type": "text", "angle": 90, "fontSize": 13, "color": "#1A1A1A", "clip": true, "dy": -4.5}, "encoding": {"text": {"field": "label"}}, "view": {"fill": "#D9D9D9", "stroke": "#333333", "strokeDash": [10, 156.2, 166.2]}}
],
"config": {
  "font": "Liberation Sans",
  "view": {"stroke": "#333333", "strokeWidth": 1},
  "axis": {"domain": false, "labelColor": "#4D4D4D", "labelFontSize": 12, "labelPadding": 2, "tickColor": "#333333", "tickSize": 3.5, "titleFontWeight": "normal", "titleFontSize": 13, "titleColor": "#000000"},
  "legend": {"direction": "horizontal", "titleOrient": "left", "titleFontWeight": "normal", "titleFontSize": 13, "titleColor": "#000000", "labelFontSize": 13, "labelColor": "#000000", "symbolType": "stroke", "symbolStrokeWidth": 1.5, "symbolSize": 121, "columnPadding": 10, "labelOffset": 6}
}
}
